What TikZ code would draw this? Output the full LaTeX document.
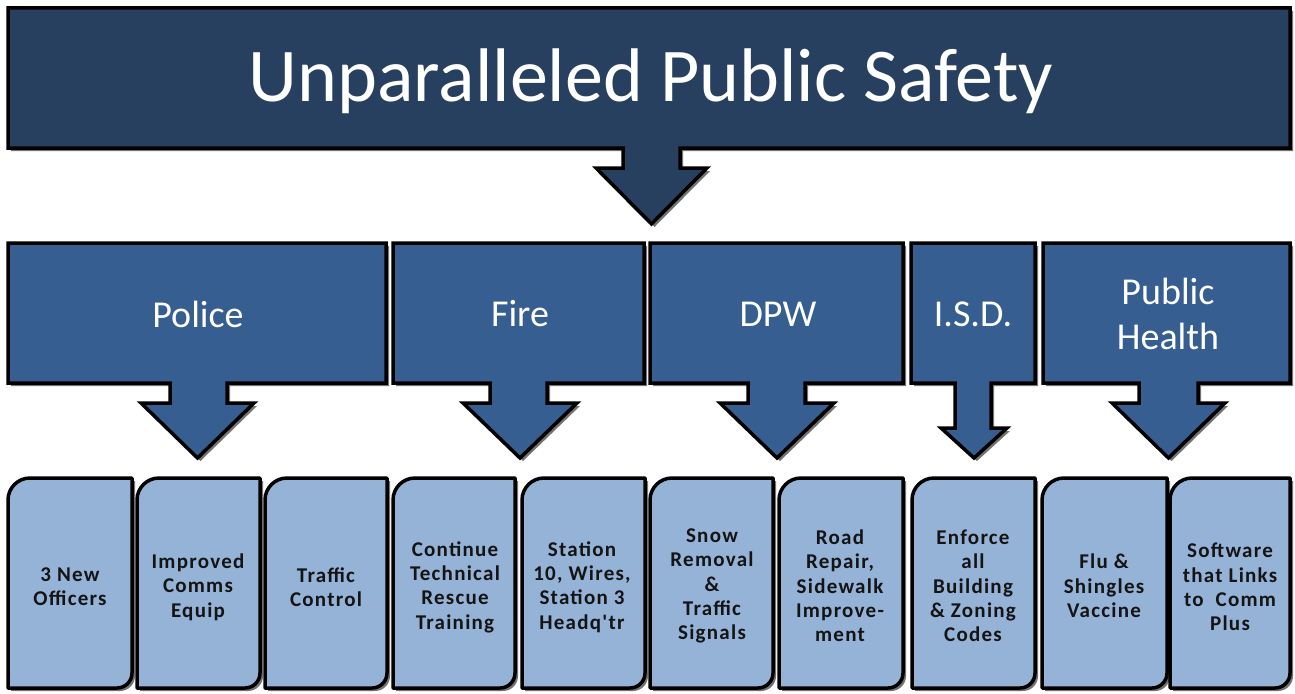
\documentclass[tikz,border=0pt]{standalone}
\usepackage{fontspec}
\setmainfont{Carlito}
\newfontfamily\itemfont[LetterSpace=6]{Carlito}
\usetikzlibrary{shadows}
\definecolor{navy}{HTML}{274060}
\definecolor{dept}{HTML}{375E91}
\definecolor{itemfill}{HTML}{95B3D7}
\definecolor{itemtext}{HTML}{141414}
\newcommand\itemshape[2]{% #1 left x, #2 width
  \path[itembox] (#1,688) -- (#1,500) .. controls (#1,487.9) and ({#1+9.9},478) .. ({#1+22},478)
    -- ({#1+#2},478) -- ({#1+#2},673) .. controls ({#1+#2},681.3) and ({#1+#2-6.7},688) .. ({#1+#2-15},688) -- cycle;}
\begin{document}
\begin{tikzpicture}[x=1pt,y=-1pt,
  outline/.style={draw=black, line width=3.5pt, line join=miter, miter limit=4,
    drop shadow={shadow xshift=3pt, shadow yshift=-3pt, opacity=0.55, fill=black}},
  topshape/.style={outline, fill=navy},
  deptshape/.style={outline, fill=dept},
  itembox/.style={draw=black, line width=3.5pt, line join=round, fill=itemfill,
    drop shadow={shadow xshift=3pt, shadow yshift=-3pt, opacity=0.55, fill=black}},
  titletext/.style={text=white, font=\fontsize{76}{90}\selectfont, inner sep=0pt},
  depttext/.style={text=white, font=\fontsize{38}{45}\selectfont, align=center, inner sep=0pt},
  itemtext/.style={text=itemtext, font=\itemfont\bfseries\fontsize{21}{24.3}\selectfont, align=center, inner sep=0pt}]
\useasboundingbox (0,0) rectangle (1295,693);
% top callout
\path[topshape] (8,8) -- (1290,8) -- (1290,148) -- (680,148) -- (680,168) -- (707,168) -- (651.5,224)
  -- (596,168) -- (623,168) -- (623,148) -- (8,148) -- cycle;
\node[titletext] (title) at (651,81) {Unparalleled Public Safety};
% department callouts
\path[deptshape] (8,243) -- (386,243) -- (386,383) -- (227,383) -- (227,403) -- (254,403) -- (197.5,458)
  -- (141,403) -- (170,403) -- (170,383) -- (8,383) -- cycle;
\path[deptshape] (393,243) -- (644,243) -- (644,383) -- (547,383) -- (547,403) -- (577,403) -- (520,458)
  -- (463,403) -- (490,403) -- (490,383) -- (393,383) -- cycle;
\path[deptshape] (650,243) -- (903,243) -- (903,383) -- (805,383) -- (805,403) -- (834,403) -- (777,458)
  -- (720,403) -- (748,403) -- (748,383) -- (650,383) -- cycle;
\path[deptshape] (911,243) -- (1035,243) -- (1035,383) -- (991,383) -- (991,428) -- (1007,428) -- (974,458)
  -- (941,428) -- (955,428) -- (955,383) -- (911,383) -- cycle;
\path[deptshape] (1043,243) -- (1290,243) -- (1290,383) -- (1198,383) -- (1198,403) -- (1225,403) -- (1168.5,458)
  -- (1112,403) -- (1139,403) -- (1139,383) -- (1043,383) -- cycle;
\node[depttext] (police) at (198,314) {Police};
\node[depttext] (fire) at (520,314) {Fire};
\node[depttext] (dpw) at (778,314) {DPW};
\node[depttext] (isd) at (973,314) {I.S.D.};
\node[depttext] (health) at (1168,314) {Public\\Health};
% item boxes
\itemshape{8}{124}
\itemshape{137}{123}
\itemshape{265}{122}
\itemshape{393}{122}
\itemshape{522}{123}
\itemshape{650}{123}
\itemshape{779}{124}
\itemshape{912}{123}
\itemshape{1042}{125}
\itemshape{1170}{120}
\node[itemtext] (i1) at (70,587) {3 New\\Officers};
\node[itemtext] (i2) at (198,587) {Improved\\Comms\\Equip};
\node[itemtext] (i3) at (326,587) {Traffic\\Control};
\node[itemtext] (i4) at (455,587) {Continue\\Technical\\Rescue\\Training};
\node[itemtext] (i5) at (582,587) {Station\\10, Wires,\\Station 3\\Headq'tr};
\node[itemtext] (i6) at (712,586) {Snow\\Removal\\\&\\Traffic\\Signals};
\node[itemtext] (i7) at (840,586) {Road\\Repair,\\Sidewalk\\Improve-\\ment};
\node[itemtext] (i8) at (973,586) {Enforce\\all\\Building\\\& Zoning\\Codes};
\node[itemtext] (i9) at (1104,586) {Flu \&\\Shingles\\Vaccine};
\node[itemtext] (i10) at (1230,587) {Software\\that Links\\to~ Comm\\Plus};
\end{tikzpicture}
\end{document}
